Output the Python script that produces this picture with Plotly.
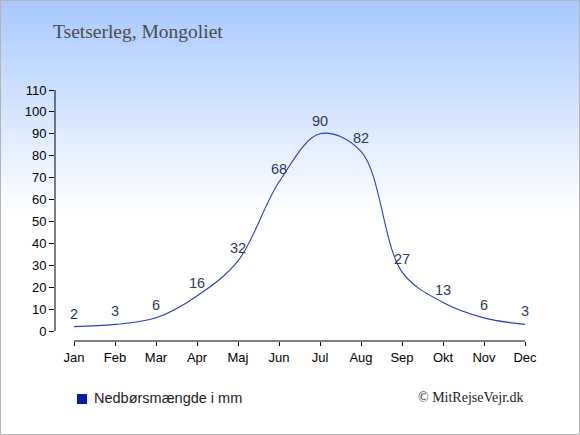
import plotly.graph_objects as go

months = ["Jan", "Feb", "Mar", "Apr", "Maj", "Jun", "Jul", "Aug", "Sep", "Okt", "Nov", "Dec"]
rain_mm = [2, 3, 6, 16, 32, 68, 90, 82, 27, 13, 6, 3]
y_ticks = list(range(0, 111, 10))

W, H = 580, 435
L, R, T, B = 55, 55, 90, 94
pw, ph = W - L - R, H - T - B


def px_x(x):
    return (x - L) / pw


def px_y(y):
    return (H - B - y) / ph


fig = go.Figure()

fig.add_trace(go.Scatter(
    x=list(range(len(months))),
    y=rain_mm,
    mode="lines",
    line=dict(color="#2b3bc4", width=1.1, shape="spline", smoothing=1.0),
    showlegend=False,
    hoverinfo="skip",
))

# value labels above each point
annotations = []
for i, v in enumerate(rain_mm):
    annotations.append(dict(
        x=i, y=v, xref="x", yref="y", text=str(v), showarrow=False,
        yshift=13, xanchor="center", yanchor="middle",
        font=dict(family="Liberation Sans, Arial", size=14.5, color="#2a3a5c"),
    ))

# background gradient as thin strips
shapes = []
n = 50
top, bottom = (168, 201, 255), (255, 255, 255)
for i in range(n):
    y0 = 215 * i / n
    y1 = 215 * (i + 1) / n + 0.5
    t = i / (n - 1)
    c = tuple(round(top[k] + (bottom[k] - top[k]) * t) for k in range(3))
    shapes.append(dict(type="rect", xref="paper", yref="paper", layer="below",
                       x0=px_x(0), x1=px_x(W), y0=px_y(y1), y1=px_y(y0),
                       line=dict(width=0), fillcolor="rgb(%d,%d,%d)" % c))

# axis lines spanning only the data range
shapes.append(dict(type="line", xref="paper", yref="y", x0=0, x1=0, y0=0, y1=110,
                   line=dict(color="black", width=1)))
shapes.append(dict(type="line", xref="x", yref="paper", x0=0, x1=11, y0=0, y1=0,
                   line=dict(color="black", width=1)))

# legend square
shapes.append(dict(type="rect", xref="paper", yref="paper",
                   x0=px_x(77), x1=px_x(87), y0=px_y(404), y1=px_y(394),
                   line=dict(width=0), fillcolor="#0a1aa8"))

# outer border
shapes.append(dict(type="rect", xref="paper", yref="paper",
                   x0=px_x(0.5), x1=px_x(W - 0.5), y0=px_y(H - 0.5), y1=px_y(0.5),
                   line=dict(color="#b4b4b4", width=1)))

annotations += [
    dict(text="Tsetserleg, Mongoliet", xref="paper", yref="paper",
         x=px_x(51), y=px_y(32), xanchor="left", yanchor="middle", showarrow=False,
         font=dict(family="Liberation Serif, Times New Roman", size=19.5, color="#4a4a4a")),
    dict(text="Nedbørsmængde i mm", xref="paper", yref="paper",
         x=px_x(92), y=px_y(398), xanchor="left", yanchor="middle", showarrow=False,
         font=dict(family="Liberation Sans, Arial", size=14.5, color="#222222")),
    dict(text="© MitRejseVejr.dk", xref="paper", yref="paper",
         x=px_x(526), y=px_y(397), xanchor="right", yanchor="middle", showarrow=False,
         font=dict(family="Liberation Serif, Times New Roman", size=14, color="#222222")),
]

fig.update_layout(
    width=W, height=H,
    margin=dict(l=L, r=R, t=T, b=B),
    paper_bgcolor="white",
    plot_bgcolor="rgba(0,0,0,0)",
    shapes=shapes,
    annotations=annotations,
    hovermode=False,
    xaxis=dict(
        range=[-19 / 41, 11],
        tickmode="array", tickvals=list(range(len(months))), ticktext=months,
        ticks="outside", ticklen=4, tickcolor="black",
        showgrid=False, zeroline=False, showline=False,
        tickfont=dict(family="Liberation Sans, Arial", size=13, color="black"),
    ),
    yaxis=dict(
        range=[-10 * 10 / 21.9, 110],
        tickmode="array", tickvals=y_ticks,
        ticks="outside", ticklen=5, tickcolor="black",
        showgrid=False, zeroline=False, showline=False,
        tickfont=dict(family="Liberation Sans, Arial", size=13, color="black"),
    ),
)

fig.write_html("out.html", config={"displayModeBar": False},
               post_script="document.body.style.margin='0';")
